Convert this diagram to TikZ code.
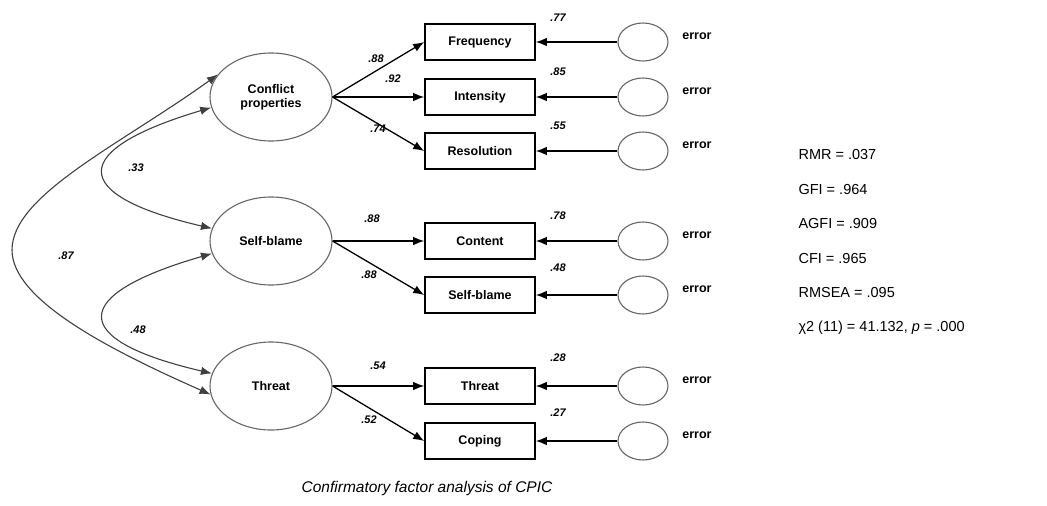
\documentclass[tikz,border=0pt]{standalone}
\usepackage{fontspec}
\setmainfont{Liberation Sans}
\usetikzlibrary{shapes.geometric,arrows.meta}
\begin{document}
\begin{tikzpicture}[x=1pt,y=-1pt,
  lat/.style={ellipse,draw=black!60,line width=1.1pt,minimum width=122pt,minimum height=88pt,inner sep=0pt,align=center,font=\fontsize{12.5}{14}\selectfont\bfseries},
  obs/.style={rectangle,draw=black,line width=1.6pt,minimum width=110pt,minimum height=36pt,inner sep=0pt,font=\fontsize{12.5}{14}\selectfont\bfseries},
  err/.style={ellipse,draw=black!60,line width=1.1pt,minimum width=50pt,minimum height=38pt,inner sep=0pt},
  elab/.style={font=\fontsize{12.5}{14}\selectfont\bfseries},
  num/.style={font=\fontsize{11}{13}\selectfont\bfseries\itshape},
  tip/.tip={Latex[length=11pt,width=8.5pt]},
  arr/.style={line width=1.3pt,-tip},
  cov/.style={line width=1.1pt,draw=black!75,tip-tip},
  stat/.style={anchor=west,font=\fontsize{14.5}{16}\selectfont}
]
\useasboundingbox (0,0) rectangle (1047,506);

% latent variables
\node[lat] (cp) at (271,97) {Conflict\\properties};
\node[lat] (sb) at (271,241) {Self-blame};
\node[lat] (th) at (271,386) {Threat};

% observed variables
\node[obs] (fr) at (480,42) {Frequency};
\node[obs] (in) at (480,97) {Intensity};
\node[obs] (re) at (480,151) {Resolution};
\node[obs] (co) at (480,241) {Content};
\node[obs] (sbo) at (480,295) {Self-blame};
\node[obs] (tho) at (480,386) {Threat};
\node[obs] (cg) at (480,441) {Coping};

% error terms
\foreach \n/\y in {e1/42,e2/97,e3/151,e4/241,e5/295,e6/386,e7/441}{
  \node[err] (\n) at (643,\y) {};
  \node[elab] (\n l) at (697,\y-6) {error};
}

% loadings
\draw[arr] (cp.east) -- (fr.west);
\draw[arr] (cp.east) -- (in.west);
\draw[arr] (cp.east) -- (re.west);
\draw[arr] (sb.east) -- (co.west);
\draw[arr] (sb.east) -- (sbo.west);
\draw[arr] (th.east) -- (tho.west);
\draw[arr] (th.east) -- (cg.west);

% error arrows
\draw[arr] (e1.west) -- (fr.east);
\draw[arr] (e2.west) -- (in.east);
\draw[arr] (e3.west) -- (re.east);
\draw[arr] (e4.west) -- (co.east);
\draw[arr] (e5.west) -- (sbo.east);
\draw[arr] (e6.west) -- (tho.east);
\draw[arr] (e7.west) -- (cg.east);

% covariances
\coordinate (apex) at (12,250);
\draw[cov] (cp.157) .. controls (120,145) and (12,195) .. (apex)
                    .. controls (12,300) and (110,350) .. (th.188);
\draw[cov] (cp.190) .. controls (68,150) and (68,195) .. (sb.168);
\draw[cov] (sb.192) .. controls (68,295) and (68,340) .. (th.168);

% numbers
\node[num] (n1) at (376,59) {.88};
\node[num] (n2) at (393,79) {.92};
\node[num] (n3) at (378,129) {.74};
\node[num] (n4) at (372,219) {.88};
\node[num] (n5) at (369,275) {.88};
\node[num] (n6) at (378,366) {.54};
\node[num] (n7) at (369,420) {.52};
\node[num] (m1) at (558,18) {.77};
\node[num] (m2) at (558,72) {.85};
\node[num] (m3) at (558,126) {.55};
\node[num] (m4) at (558,216) {.78};
\node[num] (m5) at (558,268) {.48};
\node[num] (m6) at (558,358) {.28};
\node[num] (m7) at (558,413) {.27};
\node[num] (c1) at (136,168) {.33};
\node[num] (c2) at (138,330) {.48};
\node[num] (c3) at (66,256) {.87};

% fit statistics
\node[stat] (s1) at (795,155) {RMR = .037};
\node[stat] (s2) at (795,189.5) {GFI = .964};
\node[stat] (s3) at (795,224) {AGFI = .909};
\node[stat] (s4) at (795,258.5) {CFI = .965};
\node[stat] (s5) at (795,293) {RMSEA = .095};
\node[stat] (s6) at (795,327.5) {χ2 (11) = 41.132, \textit{p} = .000};

% caption
\node[font=\fontsize{15.5}{17}\selectfont\itshape] (cap) at (427,488) {Confirmatory factor analysis of CPIC};
\end{tikzpicture}
\end{document}
